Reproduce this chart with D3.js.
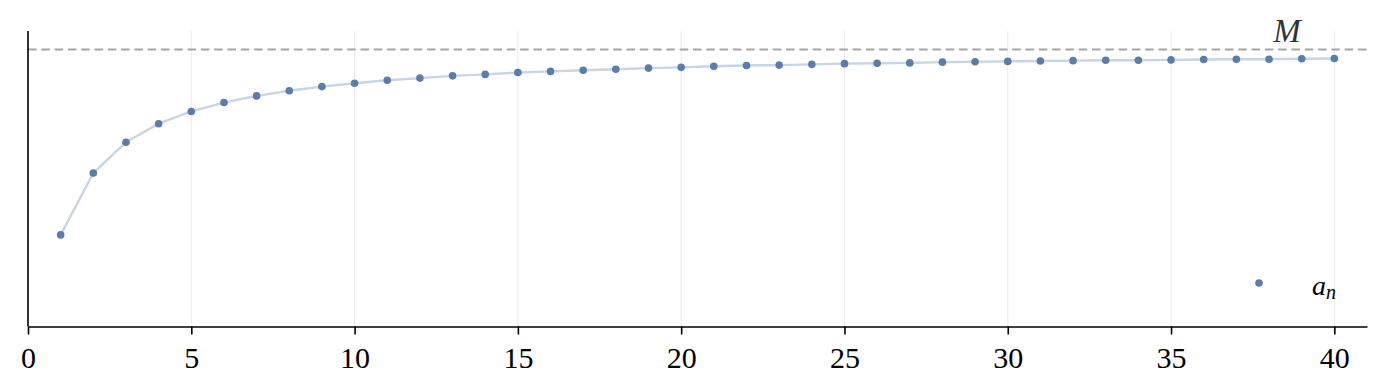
<!DOCTYPE html>
<html>
<head>
<meta charset="utf-8">
<script src="https://cdn.jsdelivr.net/npm/d3@7"></script>
<style>
  body { margin: 0; background: #fff; }
  svg { display: block; font-family: "Liberation Serif", serif; }
</style>
</head>
<body>
<div id="chart"></div>
<script>
// n = 1..40
const nValues = d3.range(1, 41);
// a_n values
const anValues = [
  0.500, 0.667, 0.750, 0.800, 0.833, 0.857, 0.875, 0.889, 0.900, 0.909,
  0.917, 0.923, 0.929, 0.933, 0.938, 0.941, 0.944, 0.947, 0.950, 0.952,
  0.955, 0.957, 0.958, 0.960, 0.962, 0.963, 0.964, 0.966, 0.967, 0.968,
  0.969, 0.970, 0.971, 0.971, 0.972, 0.973, 0.974, 0.974, 0.975, 0.976
];
const limitM = 1.0;
const xTicks = [0, 5, 10, 15, 20, 25, 30, 35, 40];

const width = 1386, height = 392;
const margin = { top: 31, right: 19, bottom: 65.5, left: 28 };

const data = nValues.map((n, i) => ({ n, a: anValues[i] }));

const svg = d3.select("#chart").append("svg")
  .attr("width", width)
  .attr("height", height);

const x = d3.scaleLinear()
  .domain([0, 41])
  .range([margin.left, width - margin.right]);

const y = d3.scaleLinear()
  .domain([0.253, 1.05])
  .range([height - margin.bottom, margin.top]);

// vertical grid
svg.append("g")
  .selectAll("line")
  .data(xTicks).enter().append("line")
  .attr("x1", d => x(d)).attr("x2", d => x(d))
  .attr("y1", margin.top).attr("y2", height - margin.bottom)
  .attr("stroke", "#ebebeb")
  .attr("stroke-width", 1);

// limit line
svg.append("line")
  .attr("x1", x(0)).attr("x2", x(41))
  .attr("y1", y(limitM)).attr("y2", y(limitM))
  .attr("stroke", "#a6a6a6")
  .attr("stroke-width", 2)
  .attr("stroke-dasharray", "8.5,4.8");

svg.append("text")
  .attr("x", x(38.55))
  .attr("y", 42)
  .attr("text-anchor", "middle")
  .attr("font-family", "'Liberation Serif', serif")
  .attr("font-style", "italic")
  .attr("font-size", 33)
  .attr("fill", "#333")
  .text("M");

// sequence line
svg.append("path")
  .datum(data)
  .attr("fill", "none")
  .attr("stroke", "#c8d5e4")
  .attr("stroke-width", 2.4)
  .attr("d", d3.line().x(d => x(d.n)).y(d => y(d.a)));

svg.append("g")
  .selectAll("circle")
  .data(data).enter().append("circle")
  .attr("cx", d => x(d.n))
  .attr("cy", d => y(d.a))
  .attr("r", 3.8)
  .attr("fill", "#5a7dac");

// axes
const xAxis = svg.append("g")
  .attr("transform", `translate(0,${height - margin.bottom})`)
  .call(d3.axisBottom(x).tickValues(xTicks).tickSize(8).tickPadding(12).tickSizeOuter(0));
xAxis.select(".domain").attr("stroke", "#000").attr("stroke-width", 1.6);
xAxis.selectAll(".tick line").attr("stroke", "#000").attr("stroke-width", 1.6);
xAxis.selectAll(".tick text")
  .attr("font-family", "'Liberation Serif', serif")
  .attr("font-size", 30)
  .attr("fill", "#000");

svg.append("line")
  .attr("x1", margin.left).attr("x2", margin.left)
  .attr("y1", margin.top).attr("y2", height - margin.bottom)
  .attr("stroke", "#000")
  .attr("stroke-width", 1.6);

// legend
const legend = svg.append("g");
legend.append("circle")
  .attr("cx", 1259).attr("cy", 283)
  .attr("r", 3.8)
  .attr("fill", "#5a7dac");
const lt = legend.append("text")
  .attr("x", 1312).attr("y", 295)
  .attr("font-family", "'Liberation Serif', serif")
  .attr("font-style", "italic")
  .attr("font-size", 28)
  .attr("fill", "#000");
lt.append("tspan").text("a");
lt.append("tspan").attr("dy", 4).attr("font-size", 20).text("n");
</script>
</body>
</html>
